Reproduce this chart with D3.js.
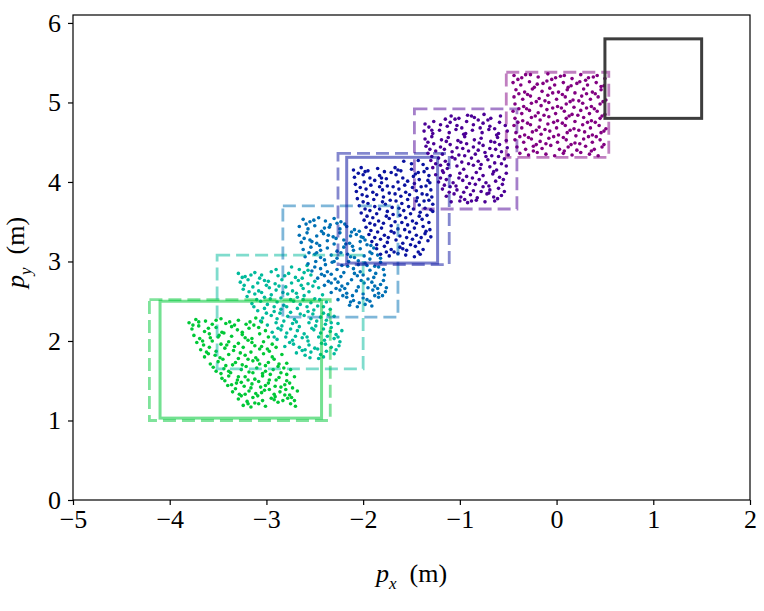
<!DOCTYPE html>
<html>
<head>
<meta charset="utf-8">
<script src="https://cdn.jsdelivr.net/npm/d3@7"></script>
<style>
body { margin: 0; background: #fff; }
text { font-family: "Liberation Serif", serif; }
</style>
</head>
<body>
<div id="wrapper"></div>
<script>
// clusters go from start (green) to goal (purple)
const clusterColors = ["#00c837", "#00ba9c", "#0070b4", "#0a12a0", "#4b0096", "#820082"]

const greenPoints = [[-3.80,2.23],[-3.73,2.27],[-3.63,2.25],[-3.56,2.21],[-3.47,2.28],[-3.38,2.24],[-3.29,2.26],[-3.21,2.21],[-3.11,2.29],[-3.05,2.24],
[-3.77,2.15],[-3.70,2.19],[-3.64,2.12],[-3.52,2.17],[-3.46,2.11],[-3.36,2.18],[-3.30,2.14],[-3.18,2.16],[-3.13,2.20],[-3.01,2.13],
[-3.75,2.07],[-3.69,2.03],[-3.59,2.09],[-3.50,2.05],[-3.44,2.10],[-3.36,2.06],[-3.25,2.08],[-3.15,2.03],[-3.07,2.09],[-2.98,2.05],
[-3.72,1.98],[-3.65,1.95],[-3.56,2.00],[-3.47,1.96],[-3.39,1.99],[-3.29,1.97],[-3.19,2.01],[-3.12,1.94],[-3.03,1.99],[-2.94,1.96],
[-3.68,1.89],[-3.59,1.92],[-3.52,1.87],[-3.43,1.91],[-3.34,1.88],[-3.24,1.92],[-3.16,1.86],[-3.07,1.90],[-2.97,1.87],[-2.90,1.92],
[-3.64,1.80],[-3.60,1.84],[-3.48,1.79],[-3.39,1.83],[-3.29,1.78],[-3.22,1.82],[-3.11,1.79],[-3.03,1.84],[-2.94,1.80],[-2.84,1.83],
[-3.58,1.71],[-3.50,1.74],[-3.42,1.69],[-3.32,1.73],[-3.25,1.70],[-3.14,1.75],[-3.07,1.71],[-2.98,1.73],[-2.88,1.68],[-2.79,1.72],
[-3.52,1.62],[-3.44,1.65],[-3.37,1.60],[-3.26,1.64],[-3.18,1.61],[-3.10,1.66],[-3.01,1.62],[-2.93,1.64],[-2.85,1.60],[-2.75,1.64],
[-3.46,1.53],[-3.39,1.56],[-3.30,1.51],[-3.22,1.55],[-3.12,1.52],[-3.04,1.56],[-2.97,1.51],[-2.87,1.54],[-2.79,1.50],[-2.71,1.55],
[-3.40,1.44],[-3.31,1.47],[-3.23,1.43],[-3.15,1.46],[-3.06,1.42],[-2.98,1.47],[-2.91,1.43],[-2.81,1.45],[-2.73,1.41],
[-3.35,1.36],[-3.28,1.33],[-3.18,1.37],[-3.11,1.34],[-3.02,1.38],[-2.92,1.33],[-2.86,1.36],[-2.76,1.32],[-2.68,1.37],
[-3.29,1.27],[-3.20,1.24],[-3.14,1.29],[-3.04,1.25],[-2.95,1.28],[-2.88,1.23],[-2.78,1.28],[-2.71,1.25],
[-3.24,1.19],[-3.16,1.17],[-3.08,1.21],[-3.01,1.18],[-2.75,1.21],[-2.70,1.18],
[-3.76,2.20],[-3.60,2.16],[-3.42,2.22],[-3.25,2.11],[-3.08,2.17],[-3.66,2.00],[-3.49,2.07],[-3.33,1.93],[-3.15,1.98],[-2.99,1.90],
[-3.62,1.86],[-3.45,1.77],[-3.27,1.85],[-3.09,1.76],[-2.92,1.77],[-3.55,1.67],[-3.39,1.62],[-3.21,1.68],[-3.04,1.59],[-2.82,1.66],
[-3.43,1.50],[-3.26,1.48],[-3.08,1.49],[-2.90,1.51],[-2.76,1.47],[-3.32,1.40],[-3.16,1.41],[-2.97,1.39],[-2.80,1.39],[-3.26,1.31],
[-3.09,1.31],[-2.91,1.30],[-2.74,1.29],[-3.12,1.22],[-2.83,1.25],
[-3.70,2.24],[-3.52,2.26],[-3.33,2.20],[-3.17,2.24],[-3.58,2.04],[-3.41,1.95],[-3.22,2.04],[-3.05,1.93],[-3.53,1.82],[-3.35,1.70],
[-3.19,1.77],[-3.01,1.69],[-2.87,1.71],[-3.47,1.59],[-3.29,1.55],[-3.14,1.60],[-2.96,1.58],[-2.79,1.58],[-3.36,1.45],[-3.19,1.51],
[-3.01,1.44],[-2.85,1.42],[-3.22,1.33],[-3.05,1.35],[-2.81,1.32],[-3.19,1.21],[-2.92,1.26]]

const tealPoints = [[-2.74,2.93],[-2.66,2.90],[-2.58,2.95],
[-3.29,2.85],[-3.22,2.81],[-3.12,2.86],[-3.05,2.83],[-2.95,2.87],[-2.88,2.82],[-2.77,2.85],[-2.70,2.80],[-2.61,2.86],[-2.54,2.83],
[-3.27,2.74],[-3.19,2.77],[-3.09,2.73],[-3.02,2.76],[-2.91,2.72],[-2.84,2.77],[-2.74,2.73],[-2.67,2.76],[-2.57,2.72],[-2.50,2.75],
[-3.24,2.65],[-3.14,2.68],[-3.08,2.63],[-2.97,2.67],[-2.90,2.64],[-2.80,2.68],[-2.73,2.63],[-2.62,2.66],[-2.56,2.62],[-2.46,2.67],
[-3.20,2.56],[-3.12,2.59],[-3.02,2.55],[-2.95,2.58],[-2.85,2.54],[-2.78,2.59],[-2.68,2.55],[-2.61,2.57],[-2.50,2.53],[-2.42,2.58],
[-3.15,2.47],[-3.06,2.50],[-2.99,2.46],[-2.89,2.49],[-2.82,2.45],[-2.72,2.50],[-2.65,2.46],[-2.54,2.48],[-2.47,2.44],[-2.38,2.49],
[-3.09,2.38],[-3.02,2.41],[-2.92,2.37],[-2.85,2.40],[-2.75,2.36],[-2.68,2.41],[-2.57,2.37],[-2.51,2.39],[-2.41,2.35],[-2.34,2.40],
[-3.04,2.29],[-2.95,2.32],[-2.89,2.28],[-2.78,2.31],[-2.71,2.27],[-2.61,2.32],[-2.54,2.28],[-2.44,2.30],[-2.38,2.26],[-2.30,2.31],
[-2.99,2.20],[-2.90,2.23],[-2.84,2.19],[-2.73,2.22],[-2.66,2.18],[-2.56,2.23],[-2.49,2.19],[-2.39,2.21],[-2.33,2.17],[-2.26,2.22],
[-2.94,2.11],[-2.85,2.14],[-2.79,2.10],[-2.68,2.13],[-2.61,2.09],[-2.51,2.14],[-2.44,2.10],[-2.34,2.12],[-2.28,2.08],[-2.22,2.13],
[-2.89,2.02],[-2.80,2.05],[-2.73,2.01],[-2.63,2.04],[-2.57,2.00],[-2.46,2.05],[-2.40,2.01],[-2.30,2.03],[-2.24,1.99],
[-2.81,1.93],[-2.72,1.96],[-2.66,1.92],[-2.56,1.95],[-2.50,1.91],[-2.39,1.96],[-2.33,1.92],[-2.25,1.94],
[-2.69,1.85],[-2.60,1.82],[-2.54,1.86],[-2.44,1.83],[-2.38,1.87],[-2.30,1.84],
[-2.55,1.79],[-2.46,1.78],[-2.41,1.80],
[-3.25,2.80],[-3.07,2.79],[-2.90,2.90],[-2.63,2.79],[-3.18,2.62],[-3.00,2.70],[-2.83,2.61],[-2.64,2.70],[-3.10,2.52],[-2.92,2.43],
[-2.75,2.52],[-2.58,2.43],[-2.45,2.52],[-3.00,2.35],[-2.82,2.25],[-2.65,2.34],[-2.48,2.25],[-2.36,2.33],[-2.88,2.16],[-2.70,2.06],
[-2.53,2.16],[-2.37,2.06],[-2.76,1.98],[-2.60,1.89],[-2.43,1.97],[-2.28,1.89],
[-3.16,2.83],[-2.98,2.75],[-2.81,2.82],[-2.57,2.89],[-3.23,2.70],[-3.05,2.61],[-2.87,2.69],[-2.69,2.60],[-2.52,2.69],[-3.13,2.43],
[-2.96,2.53],[-2.79,2.43],[-2.62,2.52],[-2.41,2.43],[-3.06,2.25],[-2.86,2.35],[-2.69,2.24],[-2.52,2.34],[-2.33,2.23],[-2.92,2.05],
[-2.75,2.15],[-2.58,2.05],[-2.41,2.15],[-2.26,2.05],[-2.63,1.88],[-2.47,1.90]]

const bluePoints = [[-2.62,3.53],[-2.55,3.50],[-2.46,3.55],[-2.39,3.51],[-2.30,3.54],[-2.23,3.50],
[-2.66,3.44],[-2.57,3.41],[-2.50,3.45],[-2.40,3.42],[-2.34,3.46],[-2.24,3.41],[-2.17,3.44],[-2.09,3.40],
[-2.66,3.33],[-2.58,3.36],[-2.48,3.32],[-2.41,3.35],[-2.31,3.31],[-2.24,3.36],[-2.13,3.32],[-2.07,3.34],[-2.00,3.30],
[-2.64,3.24],[-2.55,3.27],[-2.48,3.23],[-2.37,3.26],[-2.30,3.22],[-2.20,3.27],[-2.14,3.23],[-2.03,3.25],[-1.96,3.21],
[-2.62,3.15],[-2.54,3.18],[-2.44,3.14],[-2.37,3.17],[-2.27,3.13],[-2.20,3.18],[-2.10,3.14],[-2.03,3.16],[-1.93,3.12],[-1.89,3.17],
[-2.60,3.06],[-2.50,3.09],[-2.44,3.05],[-2.33,3.08],[-2.27,3.04],[-2.16,3.09],[-2.09,3.05],[-1.99,3.07],[-1.93,3.03],[-1.85,3.08],
[-2.57,2.97],[-2.49,3.00],[-2.39,2.96],[-2.32,2.99],[-2.22,2.95],[-2.15,3.00],[-2.05,2.96],[-1.98,2.98],[-1.88,2.94],[-1.82,2.99],
[-2.53,2.88],[-2.44,2.91],[-2.37,2.87],[-2.27,2.90],[-2.20,2.86],[-2.10,2.91],[-2.03,2.87],[-1.93,2.89],[-1.87,2.85],[-1.79,2.90],
[-2.47,2.79],[-2.40,2.82],[-2.29,2.78],[-2.23,2.81],[-2.12,2.77],[-2.06,2.82],[-1.95,2.78],[-1.89,2.80],[-1.79,2.76],
[-2.40,2.70],[-2.33,2.73],[-2.22,2.69],[-2.16,2.72],[-2.05,2.68],[-1.99,2.73],[-1.88,2.69],[-1.82,2.71],[-1.76,2.67],
[-2.33,2.61],[-2.24,2.64],[-2.17,2.60],[-2.07,2.63],[-2.00,2.59],[-1.90,2.64],[-1.84,2.60],[-1.77,2.62],
[-2.26,2.52],[-2.17,2.55],[-2.10,2.51],[-2.00,2.54],[-1.93,2.50],[-1.84,2.55],
[-2.14,2.45],[-2.06,2.43],[-1.98,2.46],[-1.91,2.44],
[-2.59,3.47],[-2.43,3.38],[-2.27,3.48],[-2.12,3.37],[-2.61,3.29],[-2.45,3.20],[-2.28,3.29],[-2.11,3.19],[-1.98,3.27],[-2.56,3.11],
[-2.40,3.02],[-2.23,3.11],[-2.05,3.01],[-1.91,3.10],[-2.50,2.93],[-2.33,2.84],[-2.16,2.94],[-2.00,2.83],[-1.84,2.93],[-2.36,2.75],
[-2.19,2.66],[-2.02,2.76],[-1.85,2.66],[-2.21,2.57],[-2.04,2.48],[-1.88,2.57],
[-2.51,3.52],[-2.35,3.43],[-2.19,3.47],[-2.04,3.38],[-2.53,3.25],[-2.36,3.33],[-2.18,3.22],[-2.02,3.31],[-1.92,3.20],[-2.48,3.11],
[-2.30,3.00],[-2.13,3.06],[-1.96,2.95],[-1.82,3.04],[-2.43,2.84],[-2.26,2.74],[-2.09,2.85],[-1.91,2.74],[-1.78,2.83],[-2.28,2.66],
[-2.11,2.57],[-1.95,2.67],[-1.80,2.57],[-2.13,2.49],[-1.96,2.52]]

const darkBluePoints = [[-1.58,4.26],[-1.50,4.23],[-1.43,4.27],[-1.38,4.22],
[-2.10,4.15],[-2.02,4.18],[-1.95,4.14],[-1.85,4.17],[-1.78,4.13],[-1.67,4.18],[-1.61,4.14],[-1.50,4.16],[-1.43,4.12],[-1.34,4.17],
[-2.09,4.06],[-2.00,4.09],[-1.93,4.05],[-1.83,4.08],[-1.76,4.04],[-1.66,4.09],[-1.59,4.05],[-1.48,4.07],[-1.42,4.03],[-1.32,4.08],
[-2.08,3.97],[-1.99,4.00],[-1.92,3.96],[-1.81,3.99],[-1.75,3.95],[-1.64,4.00],[-1.57,3.96],[-1.47,3.98],[-1.40,3.94],[-1.31,3.99],
[-2.07,3.88],[-1.97,3.91],[-1.90,3.87],[-1.80,3.90],[-1.73,3.86],[-1.63,3.91],[-1.56,3.87],[-1.45,3.89],[-1.39,3.85],[-1.30,3.90],
[-2.06,3.79],[-1.96,3.82],[-1.89,3.78],[-1.79,3.81],[-1.72,3.77],[-1.61,3.82],[-1.54,3.78],[-1.44,3.80],[-1.37,3.76],[-1.29,3.81],
[-2.04,3.70],[-1.95,3.73],[-1.88,3.69],[-1.77,3.72],[-1.70,3.68],[-1.60,3.73],[-1.53,3.69],[-1.42,3.71],[-1.36,3.67],[-1.28,3.72],
[-2.02,3.61],[-1.93,3.64],[-1.86,3.60],[-1.75,3.63],[-1.69,3.59],[-1.58,3.64],[-1.51,3.60],[-1.41,3.62],[-1.34,3.58],[-1.28,3.63],
[-1.99,3.52],[-1.90,3.55],[-1.84,3.51],[-1.73,3.54],[-1.67,3.50],[-1.56,3.55],[-1.49,3.51],[-1.39,3.53],[-1.32,3.49],
[-1.97,3.43],[-1.88,3.46],[-1.81,3.42],[-1.71,3.45],[-1.64,3.41],[-1.54,3.46],[-1.47,3.42],[-1.38,3.44],[-1.31,3.40],
[-1.94,3.34],[-1.85,3.37],[-1.78,3.33],[-1.68,3.36],[-1.62,3.32],[-1.52,3.37],[-1.45,3.33],[-1.36,3.35],[-1.30,3.31],
[-1.91,3.25],[-1.82,3.28],[-1.75,3.24],[-1.66,3.27],[-1.59,3.23],[-1.49,3.28],[-1.42,3.24],[-1.33,3.26],
[-1.86,3.16],[-1.78,3.19],[-1.71,3.15],[-1.62,3.18],[-1.55,3.14],[-1.46,3.19],[-1.38,3.15],
[-1.82,3.09],[-1.73,3.07],[-1.64,3.10],[-1.56,3.08],[-1.47,3.06],[-1.41,3.09],
[-2.05,4.11],[-1.88,4.02],[-1.71,4.12],[-1.54,4.01],[-1.37,4.13],[-2.03,3.93],[-1.86,3.84],[-1.69,3.94],[-1.52,3.84],[-1.35,3.95],
[-2.00,3.75],[-1.83,3.66],[-1.66,3.76],[-1.48,3.66],[-1.32,3.77],[-1.96,3.57],[-1.79,3.48],[-1.62,3.58],[-1.45,3.48],[-1.92,3.39],
[-1.74,3.30],[-1.57,3.40],[-1.40,3.30],[-1.86,3.21],[-1.68,3.12],[-1.51,3.21],
[-1.98,4.13],[-1.81,4.05],[-1.64,4.15],[-1.46,4.10],[-1.33,4.02],[-2.01,3.84],[-1.83,3.94],[-1.67,3.85],[-1.49,3.93],[-1.34,3.84],
[-1.98,3.66],[-1.80,3.75],[-1.63,3.67],[-1.45,3.76],[-1.30,3.65],[-1.93,3.48],[-1.76,3.57],[-1.60,3.49],[-1.42,3.57],[-1.88,3.30],
[-1.71,3.38],[-1.55,3.30],[-1.35,3.38],[-1.76,3.12],[-1.59,3.16],[-1.43,3.12]]

const indigoPoints = [[-1.09,4.83],[-1.01,4.80],[-0.92,4.84],[-0.85,4.81],[-0.75,4.85],[-0.68,4.80],[-0.58,4.83],
[-1.36,4.73],[-1.27,4.76],[-1.20,4.72],[-1.10,4.75],[-1.03,4.71],[-0.93,4.76],[-0.86,4.72],[-0.76,4.74],[-0.69,4.70],[-0.59,4.75],[-0.53,4.71],
[-1.37,4.64],[-1.28,4.61],[-1.21,4.65],[-1.11,4.62],[-1.04,4.66],[-0.94,4.61],[-0.87,4.65],[-0.77,4.62],[-0.70,4.66],[-0.60,4.61],[-0.51,4.64],
[-1.36,4.54],[-1.29,4.57],[-1.19,4.53],[-1.12,4.56],[-1.02,4.52],[-0.95,4.57],[-0.85,4.53],[-0.78,4.55],[-0.68,4.51],[-0.61,4.56],[-0.52,4.52],
[-1.35,4.45],[-1.27,4.48],[-1.20,4.44],[-1.10,4.47],[-1.03,4.43],[-0.93,4.48],[-0.86,4.44],[-0.76,4.46],[-0.69,4.42],[-0.59,4.47],[-0.51,4.43],
[-1.33,4.36],[-1.25,4.39],[-1.18,4.35],[-1.08,4.38],[-1.01,4.34],[-0.91,4.39],[-0.84,4.35],[-0.74,4.37],[-0.67,4.33],[-0.57,4.38],[-0.50,4.34],
[-1.30,4.27],[-1.22,4.30],[-1.15,4.26],[-1.05,4.29],[-0.98,4.25],[-0.88,4.30],[-0.81,4.26],[-0.71,4.28],[-0.64,4.24],[-0.54,4.29],
[-1.28,4.18],[-1.20,4.21],[-1.13,4.17],[-1.03,4.20],[-0.96,4.16],[-0.86,4.21],[-0.79,4.17],[-0.69,4.19],[-0.62,4.15],[-0.52,4.20],
[-1.25,4.09],[-1.17,4.12],[-1.10,4.08],[-1.00,4.11],[-0.93,4.07],[-0.83,4.12],[-0.76,4.08],[-0.66,4.10],[-0.59,4.06],[-0.52,4.11],
[-1.22,4.00],[-1.14,4.03],[-1.07,3.99],[-0.97,4.02],[-0.90,3.98],[-0.80,4.03],[-0.73,3.99],[-0.63,4.01],[-0.56,3.97],
[-1.18,3.91],[-1.10,3.94],[-1.03,3.90],[-0.93,3.93],[-0.86,3.89],[-0.76,3.94],[-0.69,3.90],[-0.60,3.92],[-0.54,3.88],
[-1.14,3.82],[-1.06,3.85],[-0.99,3.81],[-0.89,3.84],[-0.82,3.80],[-0.72,3.85],[-0.65,3.81],[-0.57,3.83],
[-1.09,3.75],[-1.00,3.76],[-0.92,3.74],[-0.83,3.77],[-0.74,3.75],[-0.64,3.76],
[-1.32,4.69],[-1.15,4.79],[-0.98,4.68],[-0.81,4.78],[-0.64,4.67],[-1.33,4.50],[-1.16,4.41],[-0.99,4.50],[-0.81,4.40],[-0.64,4.50],
[-1.29,4.32],[-1.12,4.22],[-0.95,4.33],[-0.78,4.22],[-0.60,4.32],[-1.20,4.05],[-1.04,3.95],[-0.87,4.05],[-0.70,3.95],[-0.55,4.03],
[-1.11,3.87],[-0.95,3.78],[-0.78,3.88],[-0.61,3.79],
[-1.05,4.79],[-0.88,4.83],[-0.71,4.78],[-1.29,4.65],[-1.13,4.70],[-0.96,4.60],[-0.79,4.68],[-0.62,4.59],[-1.31,4.41],[-1.14,4.51],
[-0.97,4.42],[-0.80,4.49],[-0.63,4.41],[-1.25,4.23],[-1.08,4.31],[-0.91,4.23],[-0.73,4.32],[-0.57,4.23],[-1.18,4.14],[-1.01,4.05],
[-0.84,3.97],[-0.65,4.13],[-1.16,3.96],[-0.96,3.87],[-0.70,3.86],[-0.88,3.76]]

const purplePoints = [[-0.44,5.34],[-0.36,5.31],[-0.27,5.35],[-0.19,5.32],[-0.09,5.36],[-0.01,5.31],[0.08,5.34],[0.16,5.30],[0.25,5.35],[0.33,5.31],[0.42,5.34],[0.50,5.30],
[-0.45,5.25],[-0.37,5.22],[-0.28,5.26],[-0.20,5.23],[-0.10,5.27],[-0.02,5.22],[0.07,5.25],[0.15,5.21],[0.24,5.26],[0.32,5.22],[0.41,5.25],[0.49,5.21],
[-0.42,5.16],[-0.33,5.13],[-0.25,5.17],[-0.15,5.14],[-0.07,5.18],[0.02,5.13],[0.11,5.16],[0.19,5.12],[0.28,5.17],[0.37,5.13],[0.46,5.16],
[-0.44,5.07],[-0.35,5.04],[-0.27,5.08],[-0.18,5.05],[-0.09,5.09],[0.00,5.04],[0.09,5.07],[0.17,5.03],[0.26,5.08],[0.35,5.04],[0.43,5.07],[0.51,5.03],
[-0.43,4.98],[-0.34,4.95],[-0.26,4.99],[-0.16,4.96],[-0.08,5.00],[0.01,4.95],[0.10,4.98],[0.18,4.94],[0.27,4.99],[0.36,4.95],[0.45,4.98],
[-0.45,4.89],[-0.36,4.86],[-0.28,4.90],[-0.19,4.87],[-0.10,4.91],[-0.01,4.86],[0.08,4.89],[0.16,4.85],[0.25,4.90],[0.34,4.86],[0.42,4.89],[0.50,4.85],
[-0.43,4.80],[-0.35,4.77],[-0.26,4.81],[-0.17,4.78],[-0.08,4.82],[0.01,4.77],[0.10,4.80],[0.19,4.76],[0.28,4.81],[0.36,4.77],[0.45,4.80],
[-0.44,4.71],[-0.36,4.68],[-0.27,4.72],[-0.18,4.69],[-0.09,4.73],[0.00,4.68],[0.09,4.71],[0.18,4.67],[0.27,4.72],[0.35,4.68],[0.44,4.71],[0.51,4.67],
[-0.42,4.62],[-0.33,4.59],[-0.25,4.63],[-0.16,4.60],[-0.07,4.64],[0.02,4.59],[0.11,4.62],[0.20,4.58],[0.29,4.63],[0.37,4.59],[0.46,4.62],
[-0.43,4.53],[-0.34,4.50],[-0.26,4.54],[-0.17,4.51],[-0.08,4.55],[0.01,4.50],[0.10,4.53],[0.19,4.49],[0.28,4.54],[0.37,4.50],[0.45,4.53],
[-0.41,4.44],[-0.32,4.41],[-0.24,4.45],[-0.15,4.42],[-0.06,4.46],[0.03,4.41],[0.12,4.44],[0.21,4.40],[0.30,4.45],[0.39,4.41],[0.47,4.44],
[-0.38,4.36],[-0.29,4.34],[-0.20,4.37],[-0.11,4.35],[-0.02,4.33],[0.07,4.36],[0.16,4.34],[0.25,4.37],[0.34,4.35],[0.43,4.33],
[-0.40,5.29],[-0.23,5.19],[-0.05,5.29],[0.12,5.19],[0.30,5.28],[0.46,5.20],[-0.39,5.11],[-0.21,5.01],[-0.04,5.12],[0.14,5.01],
[0.31,5.11],[0.48,5.01],[-0.39,4.92],[-0.22,4.83],[-0.04,4.93],[0.13,4.83],[0.31,4.93],[0.47,4.83],[-0.40,4.75],[-0.21,4.65],
[-0.03,4.75],[0.14,4.65],[0.32,4.75],[0.49,4.64],[-0.38,4.57],[-0.21,4.47],[-0.03,4.57],[0.15,4.47],[0.33,4.57],[0.49,4.47],
[-0.32,5.35],[-0.14,5.24],[0.04,5.33],[0.21,5.24],[0.38,5.32],[-0.30,5.10],[-0.12,5.02],[0.06,5.10],[0.23,5.02],[0.40,5.11],
[-0.31,4.92],[-0.13,4.84],[0.05,4.93],[0.22,4.84],[0.39,4.92],[-0.30,4.74],[-0.12,4.66],[0.06,4.74],[0.23,4.65],[0.40,4.75],
[-0.29,4.56],[-0.11,4.48],[0.07,4.56],[0.24,4.48],[0.41,4.57],[-0.24,4.39],[0.08,4.39],[0.36,4.39]]

// reachable set boxes, one per cluster: [xmin, xmax, ymin, ymax]
const dashedBoxes = [
    [-4.21, -2.34, 1.00, 2.52],
    [-3.51, -2.00, 1.65, 3.08],
    [-2.83, -1.64, 2.30, 3.70],
    [-2.26, -1.11, 2.96, 4.36],
    [-1.47, -0.41, 3.66, 4.92],
    [-0.52, 0.54, 4.31, 5.38],
]
// start set, intermediate set, goal set
const solidBoxes = [
    [-4.10, -2.43, 1.03, 2.50],
    [-2.17, -1.23, 2.98, 4.31],
    [0.50, 1.50, 4.80, 5.80],
]
const solidColors = ["#00c837", "#0a12a0", "#333333"]

const xTicks = [-5, -4, -3, -2, -1, 0, 1, 2]
const yTicks = [0, 1, 2, 3, 4, 5, 6]

const clusters = [greenPoints, tealPoints, bluePoints, darkBluePoints, indigoPoints, purplePoints]

let dimensions = {
    width: 764,
    height: 611,
    margin: { top: 15, right: 14, bottom: 111, left: 73 },
}
dimensions.boundedWidth = dimensions.width - dimensions.margin.left - dimensions.margin.right
dimensions.boundedHeight = dimensions.height - dimensions.margin.top - dimensions.margin.bottom

const svg = d3.select("#wrapper")
    .append("svg")
    .attr("width", dimensions.width)
    .attr("height", dimensions.height)

const bounds = svg.append("g")
    .attr("transform", `translate(${dimensions.margin.left},${dimensions.margin.top})`)

const xScale = d3.scaleLinear()
    .domain([-5, 2])
    .range([0, dimensions.boundedWidth])

const yScale = d3.scaleLinear()
    .domain([0, 6.1])
    .range([dimensions.boundedHeight, 0])

// scatter clouds
clusters.forEach((pts, i) => {
    bounds.append("g")
        .selectAll("circle")
        .data(pts)
        .enter()
        .append("circle")
        .attr("cx", d => xScale(d[0]))
        .attr("cy", d => yScale(d[1]))
        .attr("r", 1.8)
        .attr("fill", clusterColors[i])
})

// dashed boxes
bounds.append("g")
    .selectAll("rect")
    .data(dashedBoxes)
    .enter()
    .append("rect")
    .attr("x", d => xScale(d[0]))
    .attr("y", d => yScale(d[3]))
    .attr("width", d => xScale(d[1]) - xScale(d[0]))
    .attr("height", d => yScale(d[2]) - yScale(d[3]))
    .attr("fill", "none")
    .attr("stroke", (d, i) => clusterColors[i])
    .attr("stroke-opacity", 0.5)
    .attr("stroke-width", 2.8)
    .attr("stroke-dasharray", "13,6")

// solid boxes
bounds.append("g")
    .selectAll("rect")
    .data(solidBoxes)
    .enter()
    .append("rect")
    .attr("x", d => xScale(d[0]))
    .attr("y", d => yScale(d[3]))
    .attr("width", d => xScale(d[1]) - xScale(d[0]))
    .attr("height", d => yScale(d[2]) - yScale(d[3]))
    .attr("fill", "none")
    .attr("stroke", (d, i) => solidColors[i])
    .attr("stroke-opacity", (d, i) => i == 2 ? 0.95 : 0.55)
    .attr("stroke-width", 3)

// axes
const xAxis = d3.axisBottom(xScale)
    .tickValues(xTicks)
    .tickFormat(d3.format("d"))
    .tickSize(5)
    .tickSizeOuter(0)
    .tickPadding(5)
const yAxis = d3.axisLeft(yScale)
    .tickValues(yTicks)
    .tickFormat(d3.format("d"))
    .tickSize(5)
    .tickSizeOuter(0)
    .tickPadding(7)

const xg = bounds.append("g")
    .attr("transform", `translate(0,${dimensions.boundedHeight})`)
    .call(xAxis)
const yg = bounds.append("g")
    .call(yAxis)

svg.selectAll(".tick text")
    .attr("font-family", "'Liberation Serif', serif")
    .attr("font-size", 26)
    .attr("fill", "#000")
xg.attr("font-family", "'Liberation Serif', serif")
yg.attr("font-family", "'Liberation Serif', serif")
svg.selectAll(".tick line").attr("stroke", "#000").attr("stroke-width", 1.2)
svg.selectAll(".domain").remove()

// frame
bounds.append("rect")
    .attr("width", dimensions.boundedWidth)
    .attr("height", dimensions.boundedHeight)
    .attr("fill", "none")
    .attr("stroke", "#000")
    .attr("stroke-width", 1.2)

// axis labels
const xLabel = svg.append("text")
    .attr("x", dimensions.margin.left + dimensions.boundedWidth / 2)
    .attr("y", 582)
    .attr("text-anchor", "middle")
    .style("font-size", "26px")
xLabel.append("tspan").style("font-style", "italic").text("p")
xLabel.append("tspan").style("font-style", "italic").style("font-size", "17px").attr("dy", 7).text("x")
xLabel.append("tspan").attr("dy", -7).text("\u2002(m)")

const yLabel = svg.append("text")
    .attr("transform", `translate(24,${dimensions.margin.top + dimensions.boundedHeight / 2 - 5}) rotate(-90)`)
    .attr("text-anchor", "middle")
    .style("font-size", "26px")
yLabel.append("tspan").style("font-style", "italic").text("p")
yLabel.append("tspan").style("font-style", "italic").style("font-size", "17px").attr("dy", 7).text("y")
yLabel.append("tspan").attr("dy", -7).text("\u2002(m)")
</script>
</body>
</html>
